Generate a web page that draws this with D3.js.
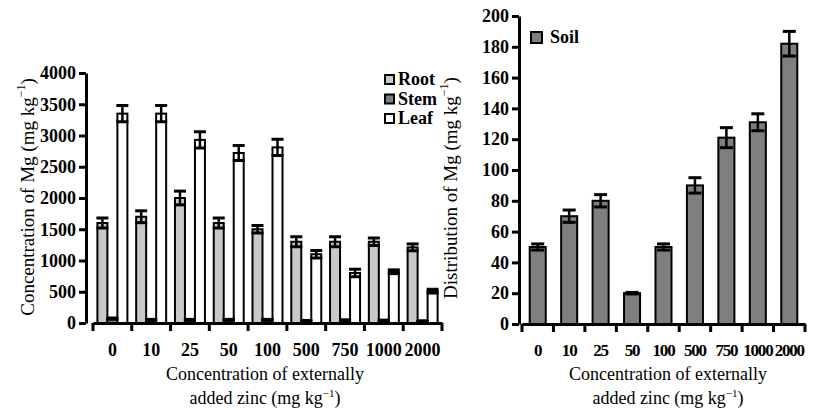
<!DOCTYPE html>
<html>
<head>
<meta charset="utf-8">
<script src="https://cdn.jsdelivr.net/npm/d3@7"></script>
<style>
  body { margin: 0; background: #fff; }
  svg text { font-family: "Liberation Serif", "Times New Roman", Times, "DejaVu Serif", serif; fill: #000; }
</style>
</head>
<body>
<svg id="chart" width="822" height="410"></svg>
<script>
// zinc levels added to soil (mg/kg)
const zincLevels = ["0", "10", "25", "50", "100", "500", "750", "1000", "2000"];

// Mg concentration in plant parts
const rootMg  = [1600, 1700, 2000, 1600, 1500, 1300, 1300, 1300, 1210];
const rootErr = [80, 95, 110, 80, 60, 80, 80, 60, 55];
const stemMg  = [70, 50, 50, 50, 50, 35, 45, 40, 30];
const stemErr = [10, 8, 8, 8, 8, 6, 6, 6, 6];
const leafMg  = [3350, 3350, 2930, 2720, 2810, 1100, 800, 820, 510];
const leafErr = [130, 130, 130, 120, 130, 60, 60, 30, 30];

// Mg distribution in soil
const soilMg  = [50, 70, 80, 20, 50, 90, 121, 131, 182];
const soilErr = [2, 4, 4, 0.5, 2, 5, 6.5, 5.5, 8];

const leftTicks = [0, 500, 1000, 1500, 2000, 2500, 3000, 3500, 4000];
const rightTicks = [0, 20, 40, 60, 80, 100, 120, 140, 160, 180, 200];

const seriesNames = ["Root", "Stem", "Leaf"];
const seriesFill = { Root: "#c8c8c8", Stem: "#7f7f7f", Leaf: "#ffffff" };
const seriesVals = { Root: rootMg, Stem: stemMg, Leaf: leafMg };
const seriesErrs = { Root: rootErr, Stem: stemErr, Leaf: leafErr };

const serif = "'Liberation Serif', 'Times New Roman', serif";
const svg = d3.select("#chart");

function styleAxis(g) {
	g.attr("font-family", null);
	g.selectAll(".domain").attr("stroke", "#000").attr("stroke-width", 3);
	g.selectAll(".tick line").attr("stroke", "#000").attr("stroke-width", 3);
	g.selectAll(".tick text")
		.style("font-family", serif)
		.style("font-size", "18px")
		.style("font-weight", "bold")
		.attr("fill", "#000");
}

function errorBar(g, cx, yTop, yBot, capW) {
	g.append("line").attr("x1", cx).attr("x2", cx).attr("y1", yTop).attr("y2", yBot)
		.attr("stroke", "#000").attr("stroke-width", 2.5);
	[yTop, yBot].forEach(y => {
		g.append("line").attr("x1", cx - capW / 2).attr("x2", cx + capW / 2)
			.attr("y1", y).attr("y2", y)
			.attr("stroke", "#000").attr("stroke-width", 3);
	});
}

function xTitle(cx) {
	svg.append("text").attr("text-anchor", "middle")
		.attr("x", cx).attr("y", 380)
		.style("font-family", serif).style("font-size", "18px")
		.text("Concentration of externally");
	const t = svg.append("text").attr("text-anchor", "middle")
		.attr("x", cx).attr("y", 404)
		.style("font-family", serif).style("font-size", "18px");
	t.append("tspan").text("added zinc (mg kg");
	t.append("tspan").attr("dy", -7).style("font-size", "11px").text("\u22121");
	t.append("tspan").attr("dy", 7).text(")");
}

function yTitle(x, cy, label) {
	const t = svg.append("text")
		.attr("transform", "translate(" + x + "," + cy + ") rotate(-90)")
		.attr("text-anchor", "middle")
		.style("font-family", serif).style("font-size", "19px");
	t.append("tspan").text(label + " (mg kg");
	t.append("tspan").attr("dy", -9).style("font-size", "12px").text("\u22121");
	t.append("tspan").attr("dy", 9).text(")");
}

// ---------- left chart ----------
const x0 = d3.scaleBand().domain(zincLevels).range([93, 442]);
const x1 = d3.scaleBand().domain(seriesNames).range([0, x0.bandwidth()])
	.paddingInner(0).paddingOuter(0.44);
const yL = d3.scaleLinear().domain([0, 4000]).range([323, 73]);

const groups = svg.append("g").selectAll("g")
	.data(zincLevels)
	.join("g")
	.attr("transform", d => "translate(" + x0(d) + ",0)");

seriesNames.forEach(name => {
	groups.append("rect")
		.attr("x", x1(name))
		.attr("y", (d, i) => yL(seriesVals[name][i]))
		.attr("width", x1.bandwidth())
		.attr("height", (d, i) => yL(0) - yL(seriesVals[name][i]))
		.attr("fill", seriesFill[name])
		.attr("stroke", "#000")
		.attr("stroke-width", 2);
});

groups.each(function (d, i) {
	const g = d3.select(this);
	seriesNames.forEach(name => {
		const v = seriesVals[name][i], e = seriesErrs[name][i];
		errorBar(g, x1(name) + x1.bandwidth() / 2, yL(v + e), yL(v - e), 12);
	});
});

svg.append("g")
	.attr("transform", "translate(86,0)")
	.call(d3.axisLeft(yL).tickValues(leftTicks).tickFormat(d3.format("d"))
		.tickSize(7).tickPadding(3).tickSizeOuter(0))
	.call(styleAxis);

svg.append("g")
	.attr("transform", "translate(0,323)")
	.call(d3.axisBottom(x0).tickSize(0).tickPadding(20).tickSizeOuter(0))
	.call(styleAxis);

// tick marks at category boundaries
svg.append("g").selectAll("line")
	.data(zincLevels.concat(["end"]))
	.join("line")
	.attr("x1", (d, i) => x0.range()[0] + i * x0.step())
	.attr("x2", (d, i) => x0.range()[0] + i * x0.step())
	.attr("y1", 323).attr("y2", 331)
	.attr("stroke", "#000").attr("stroke-width", 3);

const legL = svg.append("g").attr("transform", "translate(385,75)");
seriesNames.forEach((name, i) => {
	legL.append("rect").attr("x", 0).attr("y", i * 19.5).attr("width", 9).attr("height", 9)
		.attr("fill", seriesFill[name]).attr("stroke", "#000").attr("stroke-width", 2);
	legL.append("text").attr("x", 13).attr("y", i * 19.5 + 10)
		.style("font-family", serif)
		.style("font-size", "18px").style("font-weight", "bold").text(name);
});

yTitle(34, 197, "Concentration of Mg");
xTitle(265);

// ---------- right chart ----------
const xR = d3.scaleBand().domain(zincLevels).range([522, 805])
	.paddingInner(0.49).paddingOuter(0.245);
const yR = d3.scaleLinear().domain([0, 200]).range([324, 16]);

const soilG = svg.append("g");
soilG.selectAll("rect")
	.data(soilMg)
	.join("rect")
	.attr("x", (d, i) => xR(zincLevels[i]))
	.attr("y", d => yR(d))
	.attr("width", xR.bandwidth())
	.attr("height", d => yR(0) - yR(d))
	.attr("fill", "#7f7f7f")
	.attr("stroke", "#000")
	.attr("stroke-width", 2);

soilMg.forEach((v, i) => {
	errorBar(soilG, xR(zincLevels[i]) + xR.bandwidth() / 2, yR(v + soilErr[i]), yR(v - soilErr[i]), 13);
});

svg.append("g")
	.attr("transform", "translate(519,0)")
	.call(d3.axisLeft(yR).tickValues(rightTicks).tickSize(7).tickPadding(3).tickSizeOuter(0))
	.call(styleAxis);

// labels here are packed tight, as in the original
svg.append("g")
	.attr("transform", "translate(0,324)")
	.call(d3.axisBottom(xR).tickSize(0).tickPadding(20).tickSizeOuter(0))
	.call(styleAxis)
	.call(g => g.selectAll(".tick text").style("font-size", "17px").style("letter-spacing", "-1.2px"));

svg.append("g").selectAll("line")
	.data(zincLevels.concat(["end"]))
	.join("line")
	.attr("x1", (d, i) => xR.range()[0] + i * xR.step())
	.attr("x2", (d, i) => xR.range()[0] + i * xR.step())
	.attr("y1", 324).attr("y2", 332)
	.attr("stroke", "#000").attr("stroke-width", 3);

const legR = svg.append("g").attr("transform", "translate(531,32)");
legR.append("rect").attr("width", 11).attr("height", 11)
	.attr("fill", "#7f7f7f").attr("stroke", "#000").attr("stroke-width", 2);
legR.append("text").attr("x", 19).attr("y", 11)
	.style("font-family", serif)
	.style("font-size", "18px").style("font-weight", "bold").text("Soil");

yTitle(457, 188, "Distribution of Mg");
xTitle(668);
</script>
</body>
</html>
